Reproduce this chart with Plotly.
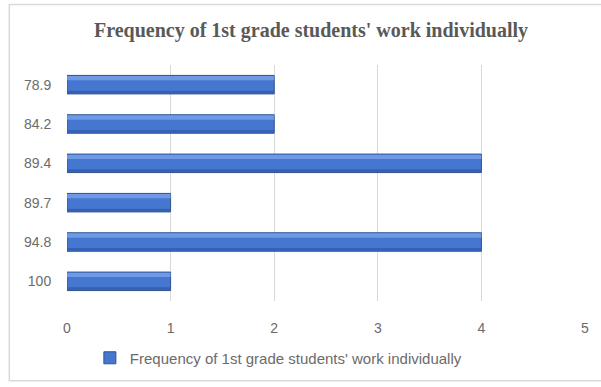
import plotly.graph_objects as go

categories = ["100", "94.8", "89.7", "89.4", "84.2", "78.9"]
frequency = [1, 4, 1, 4, 2, 2]
series_name = "Frequency of 1st grade students' work individually"
title_text = "Frequency of 1st grade students' work individually"
x_ticks = [0, 1, 2, 3, 4, 5]

W, H = 601, 387
L, R, T, B = 67, 13, 65, 82
pw, ph = W - L - R, H - T - B

def px_x(p):
    return (p - L) / pw

def px_y(p):
    return (H - B - p) / ph

BW = 0.47
fig = go.Figure()
fig.add_trace(go.Bar(
    y=categories, x=frequency, orientation="h", name=series_name,
    width=BW, offset=-BW / 2,
    marker=dict(color="#4677D0", line=dict(color="#2F528F", width=1)),
    showlegend=True, hoverinfo="x+y",
))
# bevel shading (same data): dark lower strip, light upper strip
fig.add_trace(go.Bar(
    y=categories, x=frequency, orientation="h", showlegend=False, hoverinfo="skip",
    width=0.07, offset=-BW / 2 + 0.012,
    marker=dict(color="#3461B5", line=dict(width=0)),
))
fig.add_trace(go.Bar(
    y=categories, x=frequency, orientation="h", showlegend=False, hoverinfo="skip",
    width=0.11, offset=BW / 2 - 0.125,
    marker=dict(color="#78A2EA", line=dict(width=0), opacity=0.8),
))

fig.update_layout(
    width=W, height=H,
    margin=dict(l=L, r=R, t=T, b=B),
    paper_bgcolor="white", plot_bgcolor="white",
    barmode="overlay",
    title=dict(text="<b>" + title_text + "</b>", x=311 / W, xanchor="center",
               y=1 - 30 / H, yanchor="middle",
               font=dict(family="Liberation Serif", size=20, color="#595959")),
    xaxis=dict(range=[0, 5], tickvals=x_ticks, showgrid=True, gridcolor="#D9D9D9", gridwidth=1,
               zeroline=False, showline=False,
               tickfont=dict(family="Liberation Sans", size=14, color="#6b6b6b"),
               ticks="outside", ticklen=14, tickcolor="rgba(0,0,0,0)"),
    yaxis=dict(type="category", categoryorder="array", categoryarray=categories,
               showgrid=False, zeroline=False, showline=False,
               tickfont=dict(family="Liberation Sans", size=14, color="#6b6b6b"),
               ticks="outside", ticklen=12, tickcolor="rgba(0,0,0,0)"),
    legend=dict(orientation="h", x=px_x(90), xanchor="left", y=px_y(363), yanchor="middle",
                font=dict(family="Liberation Sans", size=15, color="#6b6b6b"),
                itemwidth=30),
    shapes=[dict(type="rect", xref="paper", yref="paper",
                 x0=px_x(9), x1=px_x(610), y0=px_y(386), y1=px_y(3.5),
                 line=dict(color="#D9D9D9", width=1.5), fillcolor="rgba(0,0,0,0)", layer="below")],
)

fig.write_html("out.html")
